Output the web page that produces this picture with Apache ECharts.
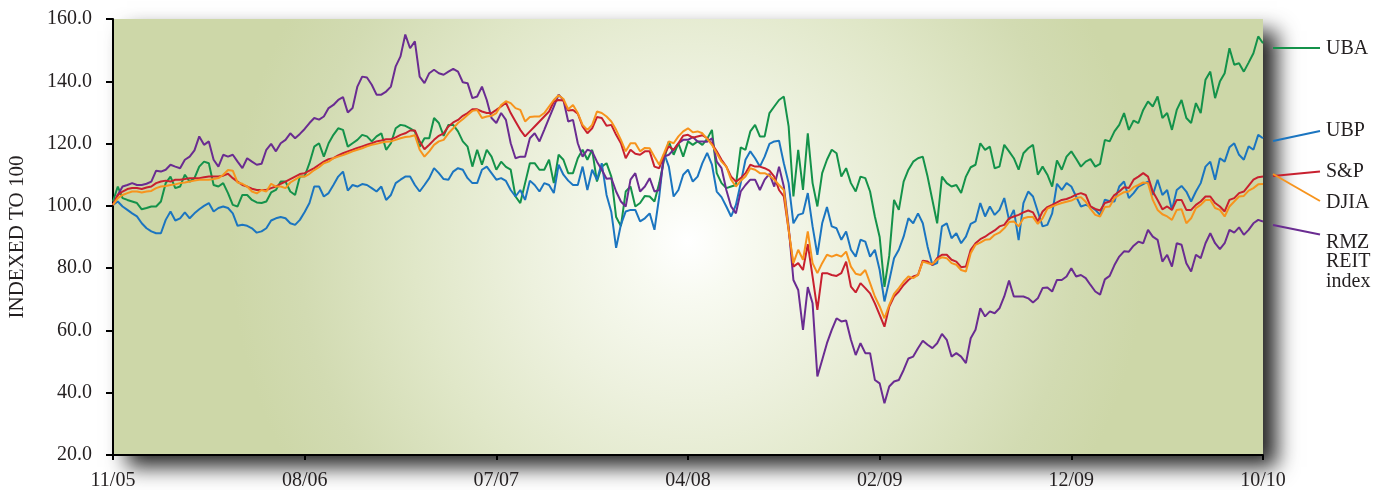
<!DOCTYPE html>
<html>
<head>
<meta charset="utf-8">
<script src="https://cdn.jsdelivr.net/npm/echarts@6/dist/echarts.min.js"></script>
<style>
html,body{margin:0;padding:0;background:#ffffff;}
#chart{width:1392px;height:490px;}
</style>
</head>
<body>
<div id="chart"></div>
<script>
// Tick labels at every 40th sample (x axis)
const tickLabels = ['11/05', '08/06', '07/07', '04/08', '02/09', '12/09', '10/10'];

const uba = [
  101.4, 106.2, 102.5, 101.9, 101.4, 100.9, 98.9, 99.3, 99.8, 99.8, 101.4, 107.3, 109.4, 105.7, 106.2, 110, 107.8, 108.9, 112.6, 114.2, 113.7, 106.7, 106.2, 107.3, 104.1, 100.3, 99.8, 103.5, 103.5, 101.9, 101.1, 100.9, 101.4, 104.3, 105.1, 107.8, 107.8, 104.6, 103.5, 109.4, 109.5,
  113.7, 119, 120.1, 115.8, 120.1, 122.8, 124.9, 124.4, 119, 120.1, 121.2, 122.8, 122.3, 120.7, 122.3, 123.3, 118, 120.1, 124.9, 126, 125.7, 124.9, 123.9, 119, 121.7, 121.7, 128.2, 126.6, 122.5, 126, 126, 123.9, 120.7, 119, 112.6, 118, 113.2, 118, 115.8, 111.6, 114.2, 112.5,
  111.6, 103, 100.9, 107.3, 113.7, 113.7, 111.6, 111.6, 114.8, 107.3, 116.4, 114.8, 110.5, 110.5, 115.3, 118, 114.8, 118, 107.8, 112.6, 113.7, 109.4, 96.4, 93.5, 104.6, 106.2, 99.8, 100.9, 103.2, 103, 101.4, 107.3, 114.8, 120.7, 116.4, 120.1, 115.8, 120.7, 119.6, 120.7, 119.6, 121.5,
  124.4, 110.5, 107.3, 105.7, 106.2, 106.7, 118.8, 118, 123.9, 126, 122.3, 122.3, 129.8, 131.9, 134, 135.1, 125.5, 103, 118, 105.1, 123.3, 107.3, 99.8, 110.5, 114.8, 118, 116.9, 109.4, 112.1, 107.3, 104.6, 109.4, 108.9, 104.6, 96.6, 90, 74, 84, 101.9, 98.7, 107.8, 111.6,
  114.2, 115.3, 115.8, 109.4, 101.9, 94.4, 109.4, 107.3, 106.2, 106.7, 104.1, 109.4, 112.4, 113.2, 120.1, 118, 119, 112.1, 112.6, 119.6, 117.5, 115.3, 111.6, 116.9, 118.5, 119.6, 110, 112.6, 110, 106.2, 114.6, 111.6, 115.8, 117.5, 115.1, 112.6, 114.2, 115, 112.6, 113.5, 121.2, 120.7,
  123.9, 126, 129.8, 124.4, 127.4, 126.6, 130.8, 133.5, 131.9, 135.1, 128.2, 129.8, 124.4, 130.8, 134, 128.2, 126.6, 133, 129.8, 140.5, 143.1, 134.6, 139.9, 142.6, 150.6, 145.3, 145.8, 143.1, 146, 149, 154.4, 152.2
];

const ubp = [
  100.3, 101.4, 99.8, 98.7, 97.6, 96.6, 94.4, 92.8, 91.8, 91.2, 91.2, 95.5, 98.2, 95.3, 96, 97.9, 96, 97.6, 98.9, 100, 100.9, 98.2, 99.3, 99.8, 99.3, 97.6, 93.6, 93.9, 93.6, 92.8, 91.4, 91.8, 92.8, 95.3, 96, 96.4, 96, 94.4, 93.9, 95.5, 98,
  100.9, 106.2, 106.2, 103, 104.1, 106.7, 109.4, 111, 104.9, 106.7, 106.2, 107, 106.7, 105.7, 104.6, 106.2, 101.9, 103.5, 107.3, 108.4, 109.4, 109.4, 106.7, 104.6, 106.7, 108.9, 112.1, 110.5, 108.6, 108.4, 111, 112.1, 111.6, 108.9, 107.3, 107.3, 111.6, 112.6, 110.5, 108.4, 108.9, 108,
  105.1, 103, 105.1, 101.9, 108.1, 106.7, 104.6, 107.3, 106.7, 104.1, 113.2, 110, 108.1, 106.7, 106.7, 112.6, 105.1, 111.6, 108.4, 113.7, 103.5, 98, 86.5, 94, 98.2, 98.7, 98.7, 95, 96, 97.6, 92.3, 103, 116.9, 112.6, 103, 105.1, 110, 111.6, 107.8, 109.4, 113.7, 117,
  113.2, 104.6, 102.8, 99.8, 96.6, 100.3, 107.3, 114.8, 117.5, 115.3, 112.6, 115.8, 119.9, 120.7, 120.9, 113.7, 107.3, 94.4, 97.1, 97.6, 104.1, 93.4, 84.3, 94.4, 99.6, 93.4, 92.8, 89.1, 91.8, 85.9, 83.7, 89.1, 88.5, 83.7, 85.9, 79.4, 69.3, 76, 83.2, 85.9, 90.1, 96,
  94.4, 97.6, 94.4, 86.9, 81, 81.6, 93.4, 94.4, 89.6, 91.2, 88, 90.1, 94.2, 95, 100.9, 96.6, 99.8, 97.1, 98.7, 102.5, 95.5, 98.7, 89, 100.9, 104.6, 103, 98.2, 93.4, 93.9, 97.6, 107.1, 105.1, 107.3, 106.2, 103, 99.8, 100.3, 99.8, 98.7, 97.1, 102, 101.5,
  101.4, 106.2, 107.8, 102.5, 104.1, 106.2, 107, 107.8, 103.5, 108.4, 103.5, 105.1, 98.7, 105.1, 106.4, 104.6, 101.4, 104.6, 107.3, 112.6, 114.2, 108.4, 115.3, 114.2, 118.8, 120.1, 116.4, 114.8, 119.1, 118, 122.8, 121.7
];

const sp = [
  100.3, 103.5, 104.6, 105.4, 105.7, 105.7, 105.4, 105.9, 106.2, 107.3, 107.8, 108.1, 107.8, 108.4, 108.4, 108.6, 108.9, 108.9, 108.9, 109.2, 109.4, 109.4, 109.4, 109.7, 110.3, 108.9, 107.8, 106.7, 106.2, 105.5, 105.1, 105.1, 105.1, 105.7, 106.2, 107.1, 107.8, 108.6, 109.4, 110.2, 110.5,
  111.3, 112.1, 113.2, 114.2, 115, 115.3, 116.2, 116.9, 117.5, 118, 118.6, 119.1, 119.6, 120.1, 120.7, 121, 121.4, 121.4, 122, 122.8, 123.3, 124.2, 124.2, 120.7, 118.2, 119.6, 121.2, 122.5, 123.3, 125.5, 126.8, 127.6, 128.9, 129.8, 131, 131, 130.3, 129.8, 129.8, 130.8, 131.9, 133.1,
  129.8, 127.1, 124.4, 122.3, 123.9, 125.5, 127.1, 128.7, 130.3, 133.5, 134, 133.8, 130.6, 130.8, 129.6, 125.5, 123.3, 124.9, 128.5, 128.2, 125.7, 126, 122.8, 120.1, 115.3, 118, 116.7, 116.4, 117.5, 117.5, 112.6, 112.1, 116.4, 119.1, 118, 120.1, 122.5, 122.8, 121.9, 122.3, 122.7, 121.7,
  119.9, 117.5, 114.8, 112.6, 109.4, 107.8, 108.9, 110.5, 113.2, 112.6, 112.6, 112.1, 111.3, 109.4, 105.1, 103, 92.3, 80.5, 81.6, 79.4, 87.7, 77.3, 66.6, 78.4, 78.4, 77.8, 77.5, 78.4, 82.1, 74.1, 72.2, 75.2, 73.6, 71.9, 68.7, 65, 61.2, 67.7, 70.9, 72.5, 74.6, 76.2,
  77.3, 77.8, 82.4, 82.1, 81, 83.2, 84.3, 84.3, 82.7, 82.1, 80.3, 80.5, 85.9, 88, 89.3, 90.1, 91.2, 92.1, 93.4, 93.9, 96, 96.6, 97.1, 97.9, 98.5, 97.9, 95, 98.2, 99.6, 100.3, 101.1, 101.9, 102.2, 102.8, 103.6, 104.1, 103.5, 99.8, 99, 98.5, 100.9, 101.4,
  103.5, 104.6, 106, 105.7, 108.4, 109.4, 110.5, 109.4, 104.6, 101.9, 98.9, 99.8, 98.7, 101.9, 101.9, 98.7, 98.7, 100.3, 101.4, 103, 103, 100.9, 99.8, 98.2, 101.9, 102.5, 104.1, 104.6, 106.5, 108.4, 109.2, 109.4
];

const djia = [
  100.3, 102.5, 103.5, 104.1, 104.6, 104.6, 104.3, 104.6, 104.8, 105.7, 106.2, 106.4, 106.7, 106.9, 107.3, 107.5, 107.8, 108.1, 108.4, 108.4, 108.4, 108.6, 108.9, 110, 111.5, 111.3, 107.5, 107.1, 106.2, 104.6, 104, 105.1, 104.6, 107.1, 106.2, 106.2, 105.7, 107.5, 108.4, 109.4, 109.4,
  110.3, 111.5, 112.4, 113.7, 114.2, 115.3, 115.8, 116.3, 116.9, 117.5, 118, 118.5, 119.1, 119.6, 119.9, 120.3, 120.6, 120.7, 121.2, 121.7, 122.1, 122.3, 122.7, 118, 115.8, 117.5, 119.6, 120.7, 121.2, 123.3, 124.9, 126.6, 127.8, 129.2, 130.5, 130.8, 128.2, 128.7, 128.9, 129.8, 132.4, 133.6,
  133, 131.4, 130.8, 127.1, 128.5, 128.7, 128.7, 129.8, 131.9, 134, 135.5, 134.3, 131, 132.4, 129.8, 126, 124.4, 126, 130.3, 129.8, 128.7, 127.1, 124.4, 121.2, 117.5, 120.1, 120.1, 117.5, 118.6, 118.5, 115.8, 113.2, 116.9, 120.7, 120.1, 122.3, 123.9, 124.9, 123.6, 123.9, 123.3, 121.5,
  119.6, 116.9, 114.2, 112.6, 108.4, 106.2, 108.1, 109.4, 112.1, 111.6, 110.5, 110.5, 109.7, 108.4, 106.7, 105.1, 92.3, 81.6, 85.9, 82.7, 91.8, 81.6, 78.4, 81.6, 84.3, 83.7, 84.3, 83.7, 85.3, 80.5, 78.2, 77.8, 79.4, 75.2, 70.9, 67.7, 63.9, 68.2, 71.7, 73.6, 75.7, 77.3,
  76.8, 77.8, 82.1, 81.6, 81.3, 82.7, 83.5, 83.2, 81.6, 81.1, 79.4, 78.9, 84.8, 87.5, 88.2, 89.1, 89.3, 90.7, 91.4, 92.8, 94.8, 95, 93.4, 96, 96.4, 96.4, 94.2, 96, 99.1, 99.8, 100.4, 100.9, 101.3, 101.7, 102.5, 102.8, 101.3, 99, 97.1, 96.6, 99.6, 99.8,
  102.5, 103.5, 104.4, 104.6, 106, 106.7, 107.5, 107.3, 101.9, 98.7, 97.3, 96.6, 95.5, 98.7, 98.9, 94.4, 96, 99.3, 100.3, 101.9, 101.9, 99.3, 98.7, 96.6, 99.8, 101.4, 103, 103.2, 104.9, 105.7, 106.9, 107
];

const rmz = [
  100.3, 103.5, 106.2, 106.7, 107.3, 106.7, 106.7, 107.1, 107.8, 111.3, 111, 111.6, 113.2, 112.6, 112.1, 114.8, 115.8, 117.8, 122.3, 119.6, 120.7, 114.8, 112.6, 116.4, 115.8, 116.4, 114.2, 112.1, 115.3, 114.2, 113.2, 113.5, 118, 119.9, 117.5, 120.1, 121.2, 123.3, 121.7, 123.1, 124.7,
  126.6, 128.2, 127.7, 128.7, 131.4, 132.4, 134, 134.9, 130, 131.4, 138.3, 141.5, 141.2, 138.9, 135.7, 135.7, 136.7, 138.3, 144.8, 148, 155, 150.6, 152.8, 141.5, 139.4, 142.6, 143.7, 142.6, 142.1, 143.1, 144, 143.1, 139.7, 139.4, 134.6, 135.1, 138.3, 134, 128.2, 126.6, 129.8, 127.6,
  120.1, 115.3, 115.8, 115.8, 121.7, 123.3, 120.7, 124.4, 128.2, 131.9, 135.7, 134, 127.1, 127.6, 120.1, 115.8, 118, 117.5, 114.2, 111.6, 108.7, 108.9, 104.6, 101.4, 99.8, 108.4, 110.5, 104.6, 106.2, 108.9, 104.6, 105.1, 115.8, 116.4, 118, 120.1, 121.2, 121.2, 122.1, 120.7, 120.7, 120.6,
  121.7, 114.2, 112.1, 105.1, 99.8, 97.6, 104.6, 106.7, 108.4, 108.4, 105.1, 108.4, 110.3, 106.2, 112.6, 106.2, 93.4, 76.2, 73, 60.2, 73.9, 68.7, 45.2, 50.5, 55.9, 60.2, 63.9, 62.9, 63.2, 57, 52.1, 55.9, 52.7, 52.7, 44.1, 43, 36.6, 42, 43.6, 44.1, 47.3, 51,
  51.6, 54.3, 56.7, 55.4, 54.3, 55.9, 58.9, 57, 51.6, 52.7, 51.6, 49.5, 57.5, 60.2, 67.1, 64.5, 66.1, 65.5, 67.1, 70.9, 76, 70.9, 70.9, 70.9, 70.3, 69, 70.3, 73.6, 73.8, 72.5, 76.2, 76.2, 77.3, 80, 77.3, 77.8, 76.8, 74.6, 72.5, 71.5, 76.4, 77.5,
  81, 83.7, 85.4, 85.3, 87.2, 88.5, 88, 92.3, 90.1, 89.1, 82.1, 84.3, 80.5, 88, 87.5, 81.6, 78.9, 84.3, 83.2, 88, 91.2, 88, 86.1, 88, 92.3, 91.4, 93.1, 90.7, 92.3, 94.4, 95.5, 95
];

const seriesNames = ['UBA', 'UBP', 'RMZ REIT index', 'S&P', 'DJIA'];
const seriesColors = ['#14924a', '#1b75c0', '#6a2c91', '#c8202f', '#f7941d'];
const seriesData = [uba, ubp, rmz, sp, djia];

const STEP = 40;
const categories = uba.map((v, i) => (i % STEP === 0 ? tickLabels[i / STEP] : String(i)));

const FONT = "'Liberation Serif', 'DejaVu Serif', serif";
const TXT = '#231f20';

const chart = echarts.init(document.getElementById('chart'), null, { renderer: 'canvas' });

const labelItems = [
  { text: 'UBA', color: seriesColors[0], from: [1273, 48], to: [1320, 48], ty: 49 },
  { text: 'UBP', color: seriesColors[1], from: [1273, 141], to: [1320, 131], ty: 131 },
  { text: 'S&P', color: seriesColors[3], from: [1273, 176], to: [1320, 171.5], ty: 172 },
  { text: 'DJIA', color: seriesColors[4], from: [1273, 174], to: [1320, 201], ty: 203 },
  { text: 'RMZ\nREIT\nindex', color: seriesColors[2], from: [1273, 225], to: [1320, 234.5], ty: 262 }
];

const graphics = [];
labelItems.forEach(it => {
  graphics.push({
    type: 'line', silent: true, z: 10,
    shape: { x1: it.from[0], y1: it.from[1], x2: it.to[0], y2: it.to[1] },
    style: { stroke: it.color, lineWidth: 2 }
  });
  graphics.push({
    type: 'text', silent: true, z: 10,
    x: 1326, y: it.ty,
    style: {
      text: it.text, fill: TXT, font: "20px " + FONT,
      textVerticalAlign: 'middle', verticalAlign: 'middle', lineHeight: 19.5
    }
  });
});

const option = {
  animation: false,
  backgroundColor: '#ffffff',
  textStyle: { fontFamily: FONT },
  grid: {
    show: true,
    left: 113, right: 129, top: 19, bottom: 35,
    containLabel: false,
    outerBoundsMode: 'none',
    borderWidth: 0,
    backgroundColor: {
      type: 'radial', x: 0.5, y: 0.51, r: 1.05,
      colorStops: [
        { offset: 0, color: '#ffffff' },
        { offset: 0.12, color: '#f8faf1' },
        { offset: 0.35, color: '#edf1de' },
        { offset: 0.6, color: '#e0e7c8' },
        { offset: 0.85, color: '#d2dbb2' },
        { offset: 1, color: '#cdd7a8' }
      ]
    },
    shadowColor: 'rgba(0,0,0,0.85)',
    shadowBlur: 20,
    shadowOffsetX: 14,
    shadowOffsetY: 12
  },
  xAxis: {
    type: 'category',
    data: categories,
    boundaryGap: false,
    axisLine: { show: true, lineStyle: { color: '#000', width: 2 } },
    axisTick: { show: true, inside: false, length: 5, interval: STEP - 1, lineStyle: { color: '#000', width: 2 } },
    axisLabel: { interval: STEP - 1, margin: 16, fontSize: 20, color: TXT, fontFamily: FONT },
    splitLine: { show: false }
  },
  yAxis: {
    type: 'value',
    min: 20, max: 160, interval: 20,
    name: 'INDEXED TO 100',
    nameLocation: 'middle',
    nameGap: 85,
    nameRotate: 90,
    nameTextStyle: { fontSize: 21, color: TXT, fontFamily: FONT },
    axisLine: { show: true, lineStyle: { color: '#000', width: 2 } },
    axisTick: { show: true, inside: false, length: 7, lineStyle: { color: '#000', width: 2 } },
    axisLabel: { margin: 21, fontSize: 20, color: TXT, fontFamily: FONT, formatter: v => v.toFixed(1) },
    splitLine: { show: false }
  },
  series: seriesData.map((d, k) => ({
    name: seriesNames[k],
    type: 'line',
    data: d,
    showSymbol: false,
    symbol: 'none',
    lineStyle: { color: seriesColors[k], width: 2 },
    itemStyle: { color: seriesColors[k] },
    z: 2 + k
  })),
  graphic: graphics
};

chart.setOption(option);
</script>
</body>
</html>
